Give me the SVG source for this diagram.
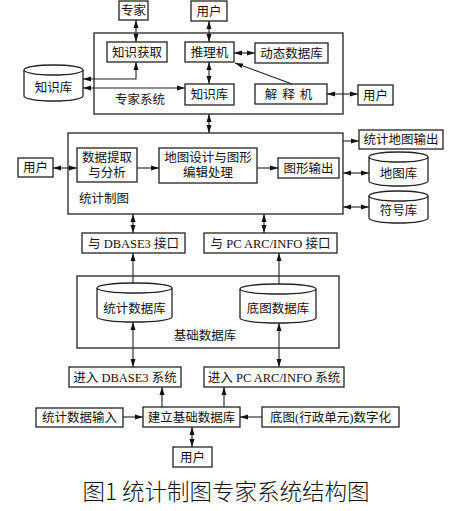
<svg xmlns="http://www.w3.org/2000/svg" width="471" height="511" viewBox="0 0 471 511">
<style>
.b{fill:#fff;stroke:#222;stroke-width:1.3}
.f{fill:none;stroke:#222;stroke-width:1.3}
.t{font-family:"Liberation Serif","Noto Sans CJK SC",serif;font-size:12.5px;fill:#111;text-anchor:middle}
.c{stroke:#222;stroke-width:1.1;fill:none}
.a{marker-end:url(#ah)}
.d{marker-start:url(#ah);marker-end:url(#ah)}
</style>
<defs>
<marker id="ah" viewBox="0 0 8 6" refX="8" refY="3" markerWidth="8" markerHeight="6" markerUnits="userSpaceOnUse" orient="auto-start-reverse">
<path d="M0,0.5 L8,3 L0,5.5 Z" fill="#111"/>
</marker>
</defs>
<rect width="471" height="511" fill="#fff"/>

<g id="expert-system"><rect class="f" x="94" y="33" width="249" height="81"/><text class="t" x="140" y="104">专家系统</text></g>
<g id="stat-mapping"><rect class="f" x="68" y="133" width="275" height="81"/><text class="t" x="104" y="203">统计制图</text></g>
<g id="base-db"><rect class="f" x="77" y="276" width="262" height="72"/><text class="t" x="205" y="340">基础数据库</text></g>

<g id="expert"><rect class="b" x="119" y="1" width="29" height="19"/><text class="t" x="133.5" y="15">专家</text></g>
<g id="user1"><rect class="b" x="191" y="1" width="36" height="20"/><text class="t" x="209" y="16">用户</text></g>
<g id="kacq"><rect class="b" x="107" y="42" width="60" height="20"/><text class="t" x="137" y="57">知识获取</text></g>
<g id="infer"><rect class="b" x="185" y="42" width="49" height="20"/><text class="t" x="209.5" y="57">推理机</text></g>
<g id="dyndb"><rect class="b" x="255" y="43" width="73" height="20"/><text class="t" x="291.5" y="58">动态数据库</text></g>
<g id="kb"><rect class="b" x="185" y="84" width="49" height="21"/><text class="t" x="209.5" y="99">知识库</text></g>
<g id="explain"><rect class="b" x="255" y="84" width="72" height="20"/><text class="t" x="291" y="99" letter-spacing="5">解释机</text></g>
<g id="user2"><rect class="b" x="358" y="85" width="35" height="20"/><text class="t" x="375.5" y="100">用户</text></g>
<g id="kbcyl"><path class="b" d="M24,70 L24,96 A29.5,5 0 0 0 83,96 L83,70"/><ellipse class="b" cx="53.5" cy="70" rx="29.5" ry="5"/><text class="t" x="53.5" y="92">知识库</text></g>

<g id="user3"><rect class="b" x="18" y="158" width="35" height="19"/><text class="t" x="35.5" y="172">用户</text></g>
<g id="extract"><rect class="b" x="77" y="148" width="60" height="34"/><text class="t" x="107" y="162">数据提取</text><text class="t" x="107" y="177">与分析</text></g>
<g id="design"><rect class="b" x="159" y="148" width="98" height="35"/><text class="t" x="208" y="162">地图设计与图形</text><text class="t" x="208" y="177">编辑处理</text></g>
<g id="gout"><rect class="b" x="278" y="158" width="61" height="20"/><text class="t" x="308.5" y="173">图形输出</text></g>
<g id="mapout"><rect class="b" x="359" y="130" width="84" height="19"/><text class="t" x="401" y="144">统计地图输出</text></g>
<g id="mapdb"><path class="b" d="M369,157 L369,181 A29.5,5 0 0 0 428,181 L428,157"/><ellipse class="b" cx="398.5" cy="157" rx="29.5" ry="5"/><text class="t" x="398.5" y="178">地图库</text></g>
<g id="symdb"><path class="b" d="M369,196 L369,218 A29.5,5 0 0 0 428,218 L428,196"/><ellipse class="b" cx="398.5" cy="196" rx="29.5" ry="5"/><text class="t" x="398.5" y="215">符号库</text></g>

<g id="if-dbase"><rect class="b" x="82" y="233" width="103" height="20"/><text class="t" x="133.5" y="248">与 DBASE3 接口</text></g>
<g id="if-arc"><rect class="b" x="204" y="233" width="133" height="20"/><text class="t" x="270.5" y="248">与 PC ARC/INFO 接口</text></g>

<g id="statdb"><path class="b" d="M97,288 L97,317 A37.5,5 0 0 0 172,317 L172,288"/><ellipse class="b" cx="134.5" cy="288" rx="37.5" ry="5"/><text class="t" x="134.5" y="313">统计数据库</text></g>
<g id="basemapdb"><path class="b" d="M240,289 L240,318 A38,5 0 0 0 316,318 L316,289"/><ellipse class="b" cx="278" cy="289" rx="38" ry="5"/><text class="t" x="278" y="313">底图数据库</text></g>

<g id="in-dbase"><rect class="b" x="69" y="367" width="112" height="20"/><text class="t" x="125" y="382">进入 DBASE3 系统</text></g>
<g id="in-arc"><rect class="b" x="204" y="367" width="140" height="20"/><text class="t" x="274" y="382">进入 PC ARC/INFO 系统</text></g>

<g id="statin"><rect class="b" x="36" y="408" width="87" height="19"/><text class="t" x="79.5" y="422">统计数据输入</text></g>
<g id="build"><rect class="b" x="143" y="407" width="97" height="20"/><text class="t" x="191.5" y="422">建立基础数据库</text></g>
<g id="digit"><rect class="b" x="262" y="407" width="137" height="20"/><text class="t" x="330.5" y="422">底图(行政单元)数字化</text></g>
<g id="user4"><rect class="b" x="173" y="447" width="39" height="20"/><text class="t" x="192.5" y="462">用户</text></g>

<g id="connectors">
<line class="c d" x1="136" y1="20" x2="136" y2="42"/>
<line class="c d" x1="209" y1="21" x2="209" y2="42"/>
<line class="c d" x1="209" y1="62" x2="209" y2="84"/>
<line class="c d" x1="234" y1="53" x2="255" y2="53"/>
<line class="c a" x1="292" y1="84" x2="235" y2="63"/>
<polyline class="c d" points="136,62 136,79 83,79"/>
<line class="c d" x1="83" y1="88" x2="185" y2="88"/>
<line class="c d" x1="327" y1="94" x2="358" y2="94"/>
<line class="c d" x1="209" y1="114" x2="209" y2="133"/>
<line class="c d" x1="53" y1="168" x2="77" y2="168"/>
<line class="c a" x1="137" y1="168" x2="159" y2="168"/>
<line class="c a" x1="257" y1="168" x2="278" y2="168"/>
<line class="c a" x1="343" y1="141" x2="359" y2="141"/>
<line class="c d" x1="343" y1="173" x2="369" y2="173"/>
<line class="c d" x1="343" y1="207" x2="369" y2="207"/>
<line class="c d" x1="133" y1="214" x2="133" y2="233"/>
<line class="c d" x1="264" y1="214" x2="264" y2="233"/>
<line class="c a" x1="133" y1="283" x2="133" y2="253"/>
<line class="c a" x1="279" y1="284" x2="279" y2="253"/>
<line class="c d" x1="133" y1="322" x2="133" y2="367"/>
<line class="c d" x1="279" y1="323" x2="279" y2="367"/>
<line class="c a" x1="162" y1="407" x2="162" y2="387"/>
<line class="c a" x1="224" y1="407" x2="224" y2="387"/>
<line class="c a" x1="123" y1="417" x2="143" y2="417"/>
<line class="c a" x1="262" y1="417" x2="240" y2="417"/>
<line class="c d" x1="192" y1="427" x2="192" y2="447"/>
</g>

<text x="226" y="500" font-family="'Noto Sans CJK SC',sans-serif" font-size="22.5" font-weight="300" fill="#111" text-anchor="middle">图1 统计制图专家系统结构图</text>
</svg>
